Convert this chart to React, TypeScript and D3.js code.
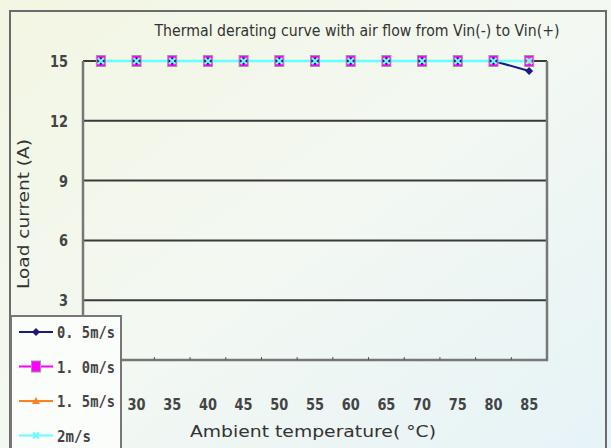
import React from "react";
import * as d3 from "d3";

const temps = ["25", "30", "35", "40", "45", "50", "55", "60", "65", "70", "75", "80", "85"];
const s05 = [15, 15, 15, 15, 15, 15, 15, 15, 15, 15, 15, 15, 14.5];
const s10 = [15, 15, 15, 15, 15, 15, 15, 15, 15, 15, 15, 15, 15];
const s15 = [15, 15, 15, 15, 15, 15, 15, 15, 15, 15, 15, 15, 15];
const s20 = [15, 15, 15, 15, 15, 15, 15, 15, 15, 15, 15, 15, 15];
const yTicks = [0, 3, 6, 9, 12, 15];
const seriesNames = ["0. 5m/s", "1. 0m/s", "1. 5m/s", "2m/s"];
const seriesColors = ["#1a1a80", "#ff00ff", "#ff8020", "#66ffff"];
const title = "Thermal derating curve with air flow from Vin(-) to Vin(+)";
const xTitle = "Ambient temperature( \u00b0C)";
const yTitle = "Load current (A)";

const W = 611, H = 448;
const L = 83, R = 547, T = 61, B = 360;

export default function App() {
  const x = d3.scaleBand().domain(temps).range([L, R]);
  const y = d3.scaleLinear().domain([0, 15]).range([B, T]);
  const cx = (t: string) => (x(t) as number) + x.bandwidth() / 2;
  const series = [s05, s10, s15, s20];
  const line = (vals: number[]) =>
    d3.line<number>().x((_, i) => cx(temps[i])).y((v) => y(v))(vals) as string;

  const marker = (k: number, px: number, py: number, key: string) => {
    const c = seriesColors[k];
    if (k === 0) return <path key={key} d={`M${px},${py - 4}L${px + 4},${py}L${px},${py + 4}L${px - 4},${py}Z`} fill={c} />;
    if (k === 1) return <rect key={key} x={px - 4.5} y={py - 5.5} width={9} height={11} fill={c} stroke="#999" strokeWidth={1} />;
    if (k === 2) return <path key={key} d={`M${px},${py - 4}L${px + 4},${py + 3}L${px - 4},${py + 3}Z`} fill={c} />;
    return <path key={key} d={`M${px - 3},${py - 3}L${px + 3},${py + 3}M${px + 3},${py - 3}L${px - 3},${py + 3}`} stroke={c} strokeWidth={2} />;
  };

  const tickXs = temps.slice(1).map((t) => x(t) as number);
  const legendLens = [58, 58, 58, 34];

  return (
    <svg width={W} height={H} style={{ position: "absolute", left: 0, top: 0 }}>
      <defs>
        <linearGradient id="bg" x1="0" y1="0" x2="1" y2="1">
          <stop offset="0" stopColor="#f3f6e2" />
          <stop offset="0.5" stopColor="#f3f8f2" />
          <stop offset="1" stopColor="#e6f3f7" />
        </linearGradient>
      </defs>
      <rect x={0} y={0} width={W} height={H} fill="url(#bg)" />
      <rect x={10} y={11} width={596} height={H} fill="none" stroke="#6b6b6b" strokeWidth={2} />
      <text x={357} y={36} textAnchor="middle" fontFamily="DejaVu Sans Condensed" fontSize={15} fill="#333" textLength={405} lengthAdjust="spacingAndGlyphs">{title}</text>
      {yTicks.filter((v) => v > 0).map((v) => (
        <line key={"g" + v} x1={L} x2={R} y1={y(v)} y2={y(v)} stroke="#3a3a3a" strokeWidth={2} />
      ))}
      <path d={`M${L},${T}V${B}H${R}V${T}`} fill="none" stroke="#777" strokeWidth={2.5} />
      {tickXs.map((tx, i) => (
        <line key={"t" + i} x1={tx} x2={tx} y1={B - 3} y2={B} stroke="#555" strokeWidth={1} />
      ))}
      {yTicks.filter((v) => v > 0).map((v) => (
        <text key={"yl" + v} x={68} y={y(v) + 6} textAnchor="end" fontFamily="DejaVu Sans Condensed" fontWeight="bold" fontSize={15} fill="#444" textLength={v >= 10 ? 18 : 9} lengthAdjust="spacingAndGlyphs">{v}</text>
      ))}
      {temps.slice(1).map((t) => (
        <text key={"xl" + t} x={cx(t)} y={410} textAnchor="middle" fontFamily="DejaVu Sans Condensed" fontWeight="bold" fontSize={15} fill="#444" textLength={18} lengthAdjust="spacingAndGlyphs">{t}</text>
      ))}
      <text x={313} y={437} textAnchor="middle" fontFamily="DejaVu Sans Condensed" fontSize={15} fill="#333" textLength={246} lengthAdjust="spacingAndGlyphs">{xTitle}</text>
      <text transform="translate(29,214) rotate(-90)" textAnchor="middle" fontFamily="DejaVu Sans Condensed" fontSize={15} fill="#333" textLength={150} lengthAdjust="spacingAndGlyphs">{yTitle}</text>
      {[0, 1, 2, 3].map((k) => (
        <path key={"l" + k} d={line(series[k])} fill="none" stroke={seriesColors[k]} strokeWidth={k === 3 ? 2.5 : 2} />
      ))}
      {[1, 2, 0, 3].map((k) =>
        series[k].map((v, i) => marker(k, cx(temps[i]), y(v), `m${k}-${i}`))
      )}
      <rect x={11} y={316} width={110} height={140} fill="#fbfdfb" stroke="#777" strokeWidth={2} />
      {seriesNames.map((n, k) => {
        const ly = 332 + k * 34.5;
        return (
          <g key={"lg" + k}>
            <line x1={19} x2={53} y1={ly} y2={ly} stroke={seriesColors[k]} strokeWidth={2} />
            {marker(k, 36, ly, "lm" + k)}
            <text x={57} y={ly + 6} fontFamily="DejaVu Sans Mono" fontWeight="bold" fontSize={15} fill="#444" textLength={legendLens[k]} lengthAdjust="spacingAndGlyphs">{n}</text>
          </g>
        );
      })}
    </svg>
  );
}
